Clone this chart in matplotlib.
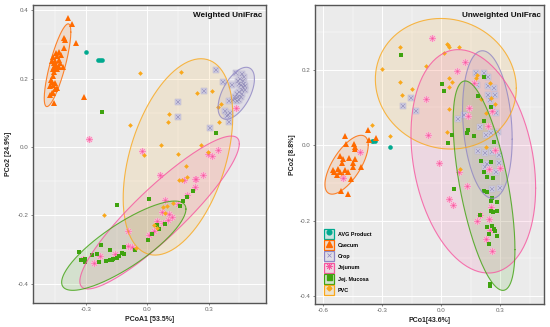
import numpy as np
import matplotlib
matplotlib.use("Agg")
import matplotlib.pyplot as plt
from matplotlib.lines import Line2D
from matplotlib.patches import Patch
from matplotlib.legend_handler import HandlerTuple

plt.rcParams['font.family'] = ['Liberation Sans', 'DejaVu Sans']

GROUPS = ["AVG Product", "Caecum", "Crop", "Jejunum", "Jej. Mucosa", "PVC"]
COLORS = {
    "AVG Product": "#00a98f",
    "Caecum": "#ff6a00",
    "Crop": "#8f86c4",
    "Jejunum": "#f7559f",
    "Jej. Mucosa": "#3fa30f",
    "PVC": "#f9a81c",
}

# Weighted UniFrac scores (PCoA1, PCo2)
w_avg = [(-.30, .279), (-.24, .253), (-.232, .253), (-.222, .253)]
w_caecum = [(-.387, .376), (-.367, .36), (-.405, .32), (-.403, .313), (-.347, .304), (-.409, .29),
            (-.43, .278), (-.447, .274), (-.44, .265), (-.43, .254), (-.468, .252), (-.452, .25), (-.46, .262),
            (-.411, .235), (-.43, .235), (-.457, .235), (-.445, .24), (-.457, .22), (-.463, .208), (-.468, .191),
            (-.452, .186), (-.476, .178), (-.44, .172), (-.46, .157), (-.476, .152), (-.31, .147), (-.456, .13),
            (-.47, .195), (-.45, .17), (-.462, .228), (-.425, .245), (-.443, .228), (-.46, .18), (-.468, .157),
            (-.455, .245), (-.42, .268)]
w_crop = [(.338, .224), (.37, .189), (.277, .164), (.15, .132), (.148, .088), (.305, .055), (.40, .072),
          (.398, .135), (.382, .105), (.395, .094), (.405, .1), (.39, .09), (.434, .217), (.462, .214), (.445, .193),
          (.47, .193), (.457, .181), (.478, .178), (.413, .181), (.462, .166), (.478, .166), (.445, .147),
          (.429, .147), (.457, .147), (.437, .133), (.42, .138), (.45, .185), (.465, .155), (.475, .205),
          (.455, .2), (.468, .175), (.44, .155), (.45, .16), (.472, .183), (.43, .14), (.448, .137)]
w_jejunum = [(-.284, .024), (-.028, -.011), (.432, .113), (.346, -.01), (.299, -.02), (.318, -.025),
             (.062, -.082), (.179, -.097), (.232, -.094), (.238, -.094), (.274, -.082), (.233, -.117),
             (.193, -.14), (.088, -.156), (.148, -.168), (.07, -.189), (.108, -.197), (.119, -.204),
             (.103, -.213), (.046, -.216), (.078, -.223), (-.093, -.246), (.01, -.257), (.033, -.246),
             (-.093, -.289), (-.077, -.291), (-.232, -.318), (-.259, -.339), (-.158, -.314), (-.313, -.327)]
w_mucosa = [(-.22, .103), (.334, .04), (.01, -.151), (-.148, -.169), (.223, -.128), (.196, -.147),
            (.176, -.157), (.158, -.173), (.086, -.225), (.059, -.239), (.046, -.228), (.021, -.254),
            (.003, -.272), (-.227, -.286), (-.116, -.293), (-.06, -.3), (-.183, -.3), (-.334, -.308),
            (-.246, -.312), (-.272, -.315), (-.325, -.33), (-.305, -.328), (-.305, -.337), (-.238, -.335),
            (-.202, -.332), (-.183, -.33), (-.175, -.329), (-.166, -.327), (-.15, -.324), (-.137, -.319),
            (-.126, -.311), (-.114, -.314)]
w_pvc = [(-.038, .215), (.166, .218), (.241, .157), (.316, .164), (.362, .127), (.346, .117), (.106, .096),
         (.1, .073), (-.085, .064), (.352, .072), (.069, .006), (.263, .007), (-.015, -.024), (.152, -.02),
         (.299, -.016), (.188, -.056), (.155, -.096), (.17, -.096), (.196, -.089), (-.212, -.2), (.078, -.176),
         (.098, -.173), (.127, -.163), (.088, -.193), (.033, -.227), (.049, -.236), (-.055, -.294)]

# Unweighted UniFrac scores (PCo1, PCo2)
u_avg = [(-.261, -.004), (-.337, .012), (-.354, .01), (-.345, .011)]
u_caecum = [(-.489, .025), (-.374, .039), (-.486, .002), (-.442, .003), (-.439, -.004), (-.436, -.011),
            (-.366, .013), (-.332, .02), (-.515, -.029), (-.469, -.033), (-.439, -.036), (-.498, -.038),
            (-.506, -.047), (-.447, -.047), (-.548, -.066), (-.523, -.062), (-.49, -.066), (-.447, -.059),
            (-.408, -.058), (-.531, -.078), (-.498, -.078), (-.459, -.09), (-.51, -.122), (-.472, -.13),
            (-.545, -.072), (-.515, -.07), (-.475, -.07)]
u_crop = [(-.195, .104), (-.156, .124), (-.129, .09), (.086, .07), (.117, .079), (.176, .19), (.217, .192),
          (.235, .181), (.183, .159), (.239, .156), (.267, .15), (.239, .134), (.273, .134), (.247, .119),
          (.256, .102), (.276, .084), (.196, .048), (.252, .031), (.229, .026), (.289, .035), (.188, -.015),
          (.222, -.022), (.259, -.018), (.293, -.026), (.23, -.049), (.293, -.047), (.222, -.057), (.276, -.072),
          (.259, -.115), (.296, -.113)]
u_jejunum = [(-.046, .285), (.122, .219), (.081, .196), (.168, .165), (-.08, .123), (.142, .097), (.134, .077),
             (-.066, .027), (.235, .05), (.256, .091), (.273, -.013), (-.413, -.017), (-.01, -.047), (.09, -.072),
             (.244, -.064), (.298, -.06), (.132, -.109), (.039, -.144), (.061, -.159), (.252, -.165), (.242, -.196),
             (.179, -.201), (.196, -.185), (.247, -.224), (.227, -.248), (.259, -.281), (-.498, -.086)]
u_mucosa = [(-.207, .24), (.005, .162), (.014, .144), (.217, .18), (.188, .131), (.251, .1), (.217, .063),
            (.134, .04), (.13, .031), (.056, .028), (.166, .025), (.032, .005), (.267, .007), (.2, -.043),
            (.252, -.046), (.218, -.071), (.234, -.085), (.264, -.086), (.063, -.115), (.218, -.122), (.232, -.125),
            (.256, -.141), (.252, -.148), (.281, -.15), (.252, -.175), (.264, -.178), (.281, -.175), (.195, -.185),
            (.23, -.216), (.259, -.215), (.267, -.223), (.273, -.228), (.24, -.236), (.283, -.241), (.24, -.263),
            (.249, -.369), (.249, -.372)]
u_pvc = [(-.21, .26), (-.3, .202), (-.21, .168), (-.201, .133), (-.151, .148), (-.352, .052), (-.261, .024),
         (-.078, .21), (.015, .244), (.027, .267), (.034, .264), (.039, .26), (.09, .259), (.037, .179), (.052, .168),
         (.037, .153), (.037, .096), (.029, .035), (.179, .186), (.176, .177), (.247, .164), (.201, .122), (.251, .125),
         (.225, .086), (.273, .108), (.227, -.006), (.096, -.064)]

# confidence ellipses: centre x, centre y, half width, half height, correlation
w_ellipses = {
    "Caecum": (-.439, .239, .065, .121, .8),
    "Crop": (.435, .157, .089, .076, .55),
    "PVC": (.15, -.029, .268, .287, .42),
    "Jejunum": (.06, -.1915, .39, .2235, .9),
    "Jej. Mucosa": (-.115, -.2885, .304, .1305, .82),
}
u_ellipses = {
    "Caecum": (-.481, -.052, .11, .078, .67),
    "Crop": (.234, .0545, .126, .1955, -.2),
    "PVC": (.023, .1625, .358, .173, -.07),
    "Jejunum": (.1625, -.043, .3166, .296, -.24),
    "Jej. Mucosa": (.217, -.1075, .157, .2775, -.61),
}

w_points = dict(zip(GROUPS, [w_avg, w_caecum, w_crop, w_jejunum, w_mucosa, w_pvc]))
u_points = dict(zip(GROUPS, [u_avg, u_caecum, u_crop, u_jejunum, u_mucosa, u_pvc]))


def draw_points(ax, name, pts):
    xs = [p[0] for p in pts]
    ys = [p[1] for p in pts]
    col = COLORS[name]
    if name == "AVG Product":
        ax.plot(xs, ys, 'o', ms=3.3, color=col, mew=0, zorder=3)
    elif name == "Caecum":
        ax.plot(xs, ys, '^', ms=4.6, color=col, mew=0, zorder=3)
    elif name == "Crop":
        ax.plot(xs, ys, 's', ms=3.9, mfc='#cfcce0', mec='#b4b0cc', mew=0.3, zorder=3)
        ax.plot(xs, ys, 'x', ms=2.6, color='#8a84b4', mew=0.35, zorder=3)
    elif name == "Jejunum":
        ax.plot(xs, ys, 'o', ms=5.0, color='#fcc0da', mew=0, alpha=0.85, zorder=3)
        ax.plot(xs, ys, marker=(8, 2, 0), ls='', ms=4.6, color='#fb8dbd', mew=0.5, zorder=3)
        ax.plot(xs, ys, 'o', ms=1.4, color=col, mew=0, zorder=3)
    elif name == "Jej. Mucosa":
        ax.plot(xs, ys, 's', ms=3.4, color=col, mew=0, zorder=4)
    else:
        ax.plot(xs, ys, 'D', ms=2.4, color=col, mew=0, zorder=4)


def draw_ellipse(ax, name, params):
    cx, cy, rx, ry, r = params
    t = np.linspace(0, 2 * np.pi, 200)
    x = cx + rx * np.cos(t)
    y = cy + ry * (r * np.cos(t) + np.sqrt(1 - r ** 2) * np.sin(t))
    ax.fill(x, y, color=COLORS[name], alpha=0.13, lw=0, zorder=2)
    ax.plot(x, y, color=COLORS[name], lw=0.8, alpha=0.8, zorder=5)


def style_axes(ax, xlim, ylim, xticks, xminor, yticks, yminor, xlabel, ylabel, title, ypad):
    ax.set_facecolor('#ebebeb')
    ax.set_xlim(xlim)
    ax.set_ylim(ylim)
    ax.set_xticks(xticks)
    ax.set_xticklabels(["%.1f" % v for v in xticks])
    ax.set_yticks(yticks)
    ax.set_yticklabels(["%.1f" % v for v in yticks])
    ax.set_xticks(xminor, minor=True)
    ax.set_yticks(yminor, minor=True)
    ax.grid(True, which='major', color='white', lw=0.7, zorder=0)
    ax.grid(True, which='minor', color='white', lw=0.35, zorder=0)
    ax.set_axisbelow(True)
    ax.tick_params(which='minor', length=0)
    ax.tick_params(which='major', length=1.5, width=0.5, color='#555555', labelsize=4.5,
                   labelcolor='#666666', pad=1.5)
    for s in ax.spines.values():
        s.set_color('#555555')
        s.set_linewidth(1.0)
    ax.set_xlabel(xlabel, fontsize=5, fontweight='bold', color='#222222', labelpad=2.5)
    ax.set_ylabel(ylabel, fontsize=5, fontweight='bold', color='#222222', labelpad=ypad)
    ax.text(0.988, 0.975, title, transform=ax.transAxes, ha='right', va='top',
            fontsize=5.9, fontweight='bold', color='#111111', zorder=6)


fig = plt.figure(figsize=(5.5, 3.27), dpi=100)
W, H = 550.0, 327.0
ax1 = fig.add_axes([33 / W, 1 - 303 / H, 232.5 / W, 298 / H])
ax2 = fig.add_axes([314.7 / W, 1 - 304 / H, 229.3 / W, 299.3 / H])

for name in GROUPS:
    draw_points(ax1, name, w_points[name])
    draw_points(ax2, name, u_points[name])
for name, params in w_ellipses.items():
    draw_ellipse(ax1, name, params)
for name, params in u_ellipses.items():
    draw_ellipse(ax2, name, params)

style_axes(ax1, (-.559, .578), (-.456, .415), [-.3, 0, .3], [-.45, -.15, .15, .45],
           [-.4, -.2, 0, .2, .4], [-.3, -.1, .1, .3], "PCoA1 [53.5%]", "PCo2 [24.9%]", "Weighted UniFrac", 4)
style_axes(ax2, (-.643, .5216), (-.421, .372), [-.6, -.3, 0, .3], [-.45, -.15, .15, .45],
           [-.4, -.2, 0, .2], [-.3, -.1, .1, .3], "PCo1[43.6%]", "PCo2 [8.8%]", "Unweighted UniFrac", 2.5)

key_markers = {
    "AVG Product": dict(marker='o', ms=3.4),
    "Caecum": dict(marker='^', ms=4.4),
    "Crop": dict(marker='x', ms=3.0, mew=0.5),
    "Jejunum": dict(marker=(8, 2, 0), ms=4.4, mew=0.6),
    "Jej. Mucosa": dict(marker='s', ms=3.6),
    "PVC": dict(marker='D', ms=2.5),
}
handles = []
for name in GROUPS:
    box = Patch(facecolor=matplotlib.colors.to_rgba(COLORS[name], 0.13), edgecolor=COLORS[name], lw=0.9)
    mark = Line2D([], [], ls='', color=COLORS[name], **key_markers[name])
    handles.append((box, mark))
ax2.legend(handles, GROUPS, handler_map={tuple: HandlerTuple(ndivide=1, pad=0)}, frameon=False,
           loc='lower left', bbox_to_anchor=(0.042, 0.03), borderpad=0, borderaxespad=0,
           handlelength=1.85, handleheight=2.46, labelspacing=0.22, handletextpad=0.6,
           prop={'size': 3.9, 'weight': 'bold'})

fig.savefig('out.png', dpi=100)
